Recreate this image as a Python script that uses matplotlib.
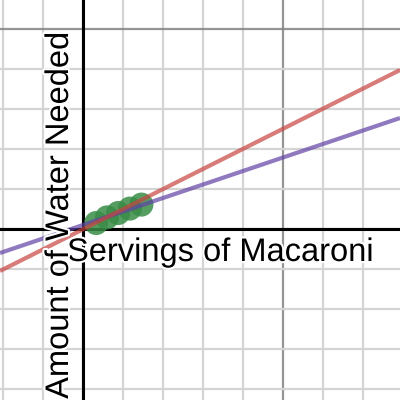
import matplotlib
matplotlib.use("Agg")
import matplotlib.pyplot as plt
import matplotlib.patheffects as pe
import numpy as np

# Data
servings = [0.33, 0.6, 0.88, 1.17, 1.46]
water = [0.15, 0.29, 0.40, 0.51, 0.61]

# Lines as (slope, intercept)
red_line = (0.5025, -0.007)
purple_line = (0.3375, 0.1)

x_label = "Servings of Macaroni"
y_label = "Amount of Water Needed"

xlim = (-2.075, 7.925)
ylim = (-4.275, 5.725)

fig = plt.figure(figsize=(4, 4), dpi=100)
ax = fig.add_axes([0, 0, 1, 1])
ax.set_xlim(*xlim)
ax.set_ylim(*ylim)
ax.axis("off")

# Grid: minor every unit, major every 5
for v in range(-2, 8):
    c, a = ("#888888", 0.9) if v % 5 == 0 else ("#d4d4d4", 1.0)
    ax.axvline(v, color=c, alpha=a, lw=1.6, zorder=0)
for v in range(-4, 6):
    c, a = ("#888888", 0.9) if v % 5 == 0 else ("#d4d4d4", 1.0)
    ax.axhline(v, color=c, alpha=a, lw=1.6, zorder=0)

# Axes
ax.axvline(0, color="black", lw=2.2, zorder=1)
ax.axhline(0, color="black", lw=2.2, zorder=1)

xs = np.array(xlim)
for (m, b), col in [(purple_line, "#6042a6"), (red_line, "#c74440")]:
    ax.plot(xs, m * xs + b, color=col, alpha=0.7, lw=3, zorder=3,
            solid_capstyle="butt")

ax.scatter(servings, water, s=300, color="#388c46", alpha=0.85,
           edgecolors="none", zorder=2)

stroke = [pe.withStroke(linewidth=3, foreground="white")]
ax.text(-0.4, -0.8, x_label, fontsize=23.5, family="Liberation Sans",
        ha="left", va="baseline", path_effects=stroke, zorder=5)
ax.text(-0.375, 4.925, y_label, fontsize=23.5, family="Liberation Sans",
        rotation=90, rotation_mode="anchor", ha="right", va="baseline",
        path_effects=stroke, zorder=5)

fig.savefig("out.png", dpi=100)
